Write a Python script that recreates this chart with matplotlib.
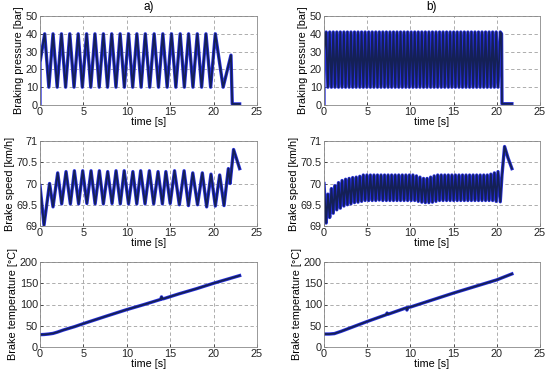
import numpy as np
import matplotlib
matplotlib.use("Agg")
import matplotlib.pyplot as plt
import matplotlib.patheffects as pe

plt.rcParams['font.family'] = ['Liberation Sans', 'DejaVu Sans']
plt.rcParams['font.size'] = 7.5

# ---- a) braking pressure: triangle vertices
pa_peak_t = [0.54, 1.5, 2.47, 3.43, 4.4, 5.37, 6.33, 7.3, 8.26, 9.23, 10.2, 11.16,
             12.13, 13.15, 14.15, 15.15, 16.15, 17.12, 18.12, 19.12, 20.2]
pa_trough_t = [1.02, 1.98, 2.95, 3.92, 4.88, 5.85, 6.82, 7.78, 8.75, 9.72, 10.68,
               11.65, 12.64, 13.65, 14.65, 15.65, 16.63, 17.62, 18.62, 19.66, 21.1]
pa_peak = 40.0
pa_trough = 10.0
pa_start_t = [0.0, 0.0]
pa_start = [0.0, 24.0]
pa_end_t = [22.0, 22.15, 23.0]
pa_end = [28.0, 0.6, 0.6]

# ---- a) brake speed
sa_start_t = [0.0, 0.46, 1.1, 1.5]
sa_start = [69.95, 69.02, 70.0, 69.45]
sa_peak_t = [2.04, 3.0, 3.96, 4.92, 5.88, 6.84, 7.8, 8.76, 9.7, 10.7, 11.6, 12.6,
             13.6, 14.5, 15.5, 16.6, 17.6, 18.7, 19.7, 20.7, 21.7]
sa_peak = [70.25, 70.28, 70.3, 70.3, 70.3, 70.3, 70.28, 70.3, 70.3, 70.28, 70.3,
           70.3, 70.28, 70.28, 70.3, 70.3, 70.25, 70.25, 70.22, 70.2, 70.35]
sa_trough_t = [2.5, 3.5, 4.45, 5.4, 6.35, 7.3, 8.3, 9.25, 10.2, 11.15, 12.1, 13.1,
               14.1, 15.0, 16.05, 17.1, 18.15, 19.2, 20.2, 21.2]
sa_trough = [69.52, 69.52, 69.52, 69.53, 69.52, 69.52, 69.53, 69.52, 69.52, 69.52,
             69.52, 69.52, 69.52, 69.53, 69.5, 69.48, 69.5, 69.45, 69.47, 69.48]
sa_end_t = [21.9, 22.3, 23.0]
sa_end = [70.0, 70.8, 70.35]

# ---- a) brake temperature
ta_t = [0.0, 0.5, 1.0, 1.5, 2.0, 2.7, 4.0, 5.0, 7.7, 10.0, 12.0, 13.9, 14.0, 14.1,
        14.3, 16.0, 18.0, 20.0, 23.0]
ta = [29.0, 29.5, 30.5, 32.0, 35.0, 40.0, 48.0, 55.0, 73.0, 88.0, 100.0, 112.0,
      118.0, 113.0, 114.0, 125.0, 137.0, 150.0, 168.0]

# ---- b) braking pressure
pb_peak_t = [0.25, 0.66, 1.07, 1.48, 1.89, 2.30, 2.71, 3.12, 3.53, 3.94, 4.35, 4.76,
             5.17, 5.58, 5.99, 6.40, 6.81, 7.22, 7.63, 8.04, 8.45, 8.86, 9.27, 9.68,
             10.09, 10.50, 10.91, 11.32, 11.73, 12.14, 12.55, 12.96, 13.37, 13.78,
             14.19, 14.60, 15.01, 15.42, 15.83, 16.24, 16.65, 17.06, 17.47, 17.88,
             18.29, 18.70, 19.11, 19.52, 19.93, 20.40]
pb_trough_t = [0.45, 0.86, 1.27, 1.68, 2.09, 2.50, 2.91, 3.32, 3.73, 4.14, 4.55,
               4.96, 5.37, 5.78, 6.19, 6.60, 7.01, 7.42, 7.83, 8.24, 8.65, 9.06,
               9.47, 9.88, 10.29, 10.70, 11.11, 11.52, 11.93, 12.34, 12.75, 13.16,
               13.57, 13.98, 14.39, 14.80, 15.21, 15.62, 16.03, 16.44, 16.85, 17.26,
               17.67, 18.08, 18.49, 18.90, 19.31, 19.72, 20.14]
pb_peak = 41.0
pb_trough = 10.0
pb_start_t = [0.0, 0.0]
pb_start = [0.0, 30.0]
pb_end_t = [20.55, 20.6, 21.75]
pb_end = [40.0, 0.7, 0.7]

# ---- b) brake speed (lows at pressure peaks, highs at pressure troughs)
sb_start_t = [0.0]
sb_start = [70.0]
sb_low = [69.07, 69.2, 69.3, 69.38, 69.42, 69.47, 69.5, 69.52, 69.55, 69.56,
          69.58, 69.6, 69.6, 69.6, 69.6, 69.61, 69.6, 69.6, 69.6, 69.6,
          69.6, 69.6, 69.6, 69.6, 69.6, 69.6, 69.58, 69.56, 69.55, 69.55,
          69.56, 69.58, 69.6, 69.6, 69.6, 69.6, 69.6, 69.6, 69.6, 69.6,
          69.6, 69.6, 69.6, 69.6, 69.6, 69.6, 69.6, 69.6, 69.58, 69.57]
sb_high = [69.75, 69.88, 69.95, 70.02, 70.07, 70.1, 70.12, 70.14, 70.15, 70.17,
           70.2, 70.2, 70.2, 70.2, 70.2, 70.2, 70.2, 70.2, 70.2, 70.2,
           70.2, 70.2, 70.2, 70.2, 70.2, 70.18, 70.15, 70.12, 70.12, 70.15,
           70.18, 70.2, 70.2, 70.2, 70.2, 70.2, 70.2, 70.2, 70.2, 70.2,
           70.2, 70.2, 70.2, 70.2, 70.2, 70.2, 70.22, 70.25, 70.28]
sb_end_t = [20.6, 20.9, 21.3, 21.75]
sb_end = [70.2, 70.87, 70.6, 70.35]

# ---- b) brake temperature
tb_t = [0.0, 0.6, 1.2, 2.0, 5.0, 7.2, 7.3, 7.4, 9.5, 9.6, 9.7, 10.0, 15.0, 20.0, 21.75]
tb = [30.5, 30.5, 31.5, 37.0, 60.0, 76.0, 80.0, 77.0, 92.0, 87.0, 93.0, 94.0,
      127.0, 158.0, 172.0]


def zigzag(start_t, start_v, hi_t, hi_v, lo_t, lo_v, end_t, end_v):
    # merge the read-off vertices into one time-ordered polyline
    hi_v = np.broadcast_to(hi_v, len(hi_t))
    lo_v = np.broadcast_to(lo_v, len(lo_t))
    t = np.concatenate([hi_t, lo_t])
    v = np.concatenate([hi_v, lo_v])
    order = np.argsort(t, kind="stable")
    t = np.concatenate([start_t, t[order], end_t])
    v = np.concatenate([start_v, v[order], end_v])
    return t, v


curves = {
    (0, 0): zigzag(pa_start_t, pa_start, pa_peak_t, pa_peak, pa_trough_t, pa_trough,
                   pa_end_t, pa_end),
    (1, 0): zigzag(sa_start_t, sa_start, sa_peak_t, sa_peak, sa_trough_t, sa_trough,
                   sa_end_t, sa_end),
    (2, 0): (np.array(ta_t), np.array(ta)),
    (0, 1): zigzag(pb_start_t, pb_start, pb_peak_t, pb_peak, pb_trough_t, pb_trough,
                   pb_end_t, pb_end),
    (1, 1): zigzag(sb_start_t, sb_start, pb_trough_t, sb_high, pb_peak_t, sb_low,
                   sb_end_t, sb_end),
    (2, 1): (np.array(tb_t), np.array(tb)),
}

ylabels = ["Braking pressure [bar]", "Brake speed [km/h]", "Brake temperature [\u00b0C]"]
ylims = [(0, 50), (69, 71), (0, 200)]
yticks = [[0, 10, 20, 30, 40, 50], [69, 69.5, 70, 70.5, 71], [0, 50, 100, 150, 200]]
yticklabels = [["0", "10", "20", "30", "40", "50"],
               ["69", "69.5", "70", "70.5", "71"],
               ["0", "50", "100", "150", "200"]]

W, H = 550, 377
lefts = [40, 324]
widths = [217, 216]
tops = [16, 141, 262]
bottoms = [105, 226, 347]

fig = plt.figure(figsize=(W / 100, H / 100), dpi=100)
navy = "#142056"
blue = "#2830e0"

for col in range(2):
    for row in range(3):
        ax = fig.add_axes([lefts[col] / W, 1 - bottoms[row] / H,
                           widths[col] / W, (bottoms[row] - tops[row]) / H])
        t, v = curves[(row, col)]
        ax.plot(t, v, color=navy, linewidth=1.3,
                path_effects=[pe.Stroke(linewidth=2.4, foreground=blue), pe.Normal()])
        ax.set_xlim(0, 25)
        ax.set_ylim(*ylims[row])
        ax.set_xticks([0, 5, 10, 15, 20, 25])
        ax.set_yticks(yticks[row])
        ax.set_yticklabels(yticklabels[row])
        ax.grid(True, linestyle=(0, (4, 3)), color="#a0a0a0", linewidth=0.6)
        ax.tick_params(direction="in", length=2.5, width=0.5, pad=1.5,
                       labelsize=7.8, colors="#222222")
        for s in ax.spines.values():
            s.set_color("#888888")
            s.set_linewidth(0.6)
        ax.set_xlabel("time [s]", fontsize=7.8, labelpad=0)
        ax.set_ylabel(ylabels[row], fontsize=7.8, labelpad=1)
        if row == 0:
            ax.set_title("a)" if col == 0 else "b)", fontsize=8.5, pad=4)

fig.savefig("out.png", dpi=100)
